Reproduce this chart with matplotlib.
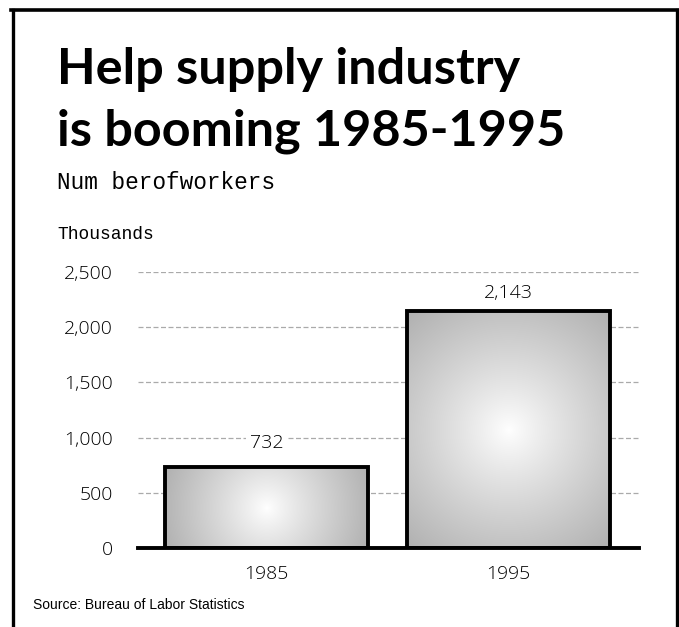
import numpy as np
import matplotlib
matplotlib.use("Agg")
import matplotlib.pyplot as plt
from matplotlib.patches import Rectangle
from matplotlib import font_manager

years = ["1985", "1995"]
workers = [732, 2143]  # thousands
yticks = [0, 500, 1000, 1500, 2000, 2500]
ytick_labels = ["0", "500", "1,000", "1,500", "2,000", "2,500"]
title_lines = ["Help supply industry", "is booming 1985-1995"]

W, H, DPI = 679, 627, 100
fig = plt.figure(figsize=(W / DPI, H / DPI), dpi=DPI)
renderer = fig.canvas.get_renderer()

TITLE_FAMILIES = ["Liberation Sans Narrow", "Noto Sans", "DejaVu Sans", "Open Sans",
                  "Roboto", "Lato", "Inter", "Liberation Sans"]


def fit_width(txt, target_px):
    w = txt.get_window_extent(renderer).width
    txt.set_fontsize(txt.get_fontsize() * target_px / w)


def pick_title_font(sample):
    # narrowest bold sans among the usual families
    best, best_w = None, None
    for f in font_manager.fontManager.ttflist:
        wt = f.weight if isinstance(f.weight, int) else 400
        if f.name not in TITLE_FAMILIES or wt < 700 or wt > 800 or f.style != "normal":
            continue
        fp = font_manager.FontProperties(fname=f.fname)
        t = fig.text(0, 0, sample, fontsize=40, fontproperties=fp)
        try:
            w = t.get_window_extent(renderer).width
        except Exception:
            w = None
        t.remove()
        if w and (best_w is None or w < best_w):
            best, best_w = fp, w
    if best is None:
        best = font_manager.FontProperties(family="DejaVu Sans", weight="bold")
    return best


title_fp = pick_title_font(title_lines[1])

# frame round the whole graphic (open at the bottom)
fig.add_artist(plt.Line2D([12.5 / W, 12.5 / W], [0, 1 - 9.5 / H], color="black", lw=2.4))
fig.add_artist(plt.Line2D([676.5 / W, 676.5 / W], [0, 1 - 9.5 / H], color="black", lw=2.4))
fig.add_artist(plt.Line2D([11 / W, 678 / W], [1 - 9.5 / H, 1 - 9.5 / H], color="black", lw=2.6))

t1 = fig.text(57 / W, 1 - 84 / H, title_lines[0], va="baseline", fontproperties=title_fp)
t2 = fig.text(57 / W, 1 - 145 / H, title_lines[1], va="baseline", fontproperties=title_fp)
for t in (t1, t2):
    t.set_fontsize(40)
fit_width(t2, 508)
size = min(t2.get_fontsize(), 44 / 0.73 * 0.72)
t1.set_fontsize(size)
t2.set_fontsize(size)

sub = fig.text(57 / W, 1 - 189 / H, "Num berofworkers", fontsize=15,
               family="Liberation Mono", va="baseline")
fit_width(sub, 218)
units = fig.text(57 / W, 1 - 239 / H, "Thousands", fontsize=11.5,
                 family="Liberation Mono", va="baseline")
fit_width(units, 97)
fig.text(33 / W, 1 - 605 / H, "Source: Bureau of Labor Statistics", fontsize=10,
         family="Liberation Sans", va="center")

ax = fig.add_axes([138 / W, (H - 548) / H, (639 - 138) / W, (548 - 272) / H])
ax.set_xlim(-0.532, 1.542)
ax.set_ylim(0, 2500)
for s in ["top", "right", "left"]:
    ax.spines[s].set_visible(False)
ax.spines["bottom"].set_linewidth(2.8)
ax.spines["bottom"].set_zorder(5)
ax.set_yticks(yticks)
ax.set_yticklabels(ytick_labels)
ax.set_xticks(range(len(years)))
ax.set_xticklabels(years)
ax.tick_params(length=0, labelsize=14, colors="black")
ax.tick_params(axis="y", pad=18)
ax.tick_params(axis="x", pad=12)
for lab in ax.get_xticklabels() + ax.get_yticklabels():
    lab.set_family("Open Sans")
    lab.set_fontweight("light")
ax.yaxis.grid(True, ls=(0, (4, 2)), color="#aaaaaa", lw=0.9)
ax.set_axisbelow(True)

bw = 0.84
label_pad_px = [24, 18]
fig.canvas.draw()
for i, v in enumerate(workers):
    x0, x1 = i - bw / 2, i + bw / 2
    (px0, py0), (px1, py1) = ax.transData.transform([(x0, 0), (x1, v)])
    nx, ny = int(abs(px1 - px0)), int(abs(py1 - py0))
    gx, gy = np.meshgrid(np.arange(nx) - nx / 2, np.arange(ny) - ny / 2)
    d = np.hypot(gx, gy) / np.hypot(nx / 2, ny / 2)
    shade = 1 - 0.31 * np.clip(d, 0, 1) ** 0.9
    img = np.dstack([shade] * 3)
    im = ax.imshow(img, extent=(x0, x1, 0, v), aspect="auto", zorder=2,
                   interpolation="bilinear")
    rect = Rectangle((x0, 0), bw, v, fill=False, ec="black", lw=2.8, zorder=4)
    ax.add_patch(rect)
    im.set_clip_path(rect)
    ax.annotate(f"{v:,}", (i, v), xytext=(0, label_pad_px[i] * 0.72),
                textcoords="offset points", ha="center", va="center",
                fontsize=14, family="Open Sans", fontweight="light",
                color="black", zorder=3,
                bbox=dict(fc="white", ec="none", pad=3))

ax.set_xlim(-0.532, 1.542)
ax.set_ylim(0, 2500)

fig.savefig("out.png", dpi=DPI)
